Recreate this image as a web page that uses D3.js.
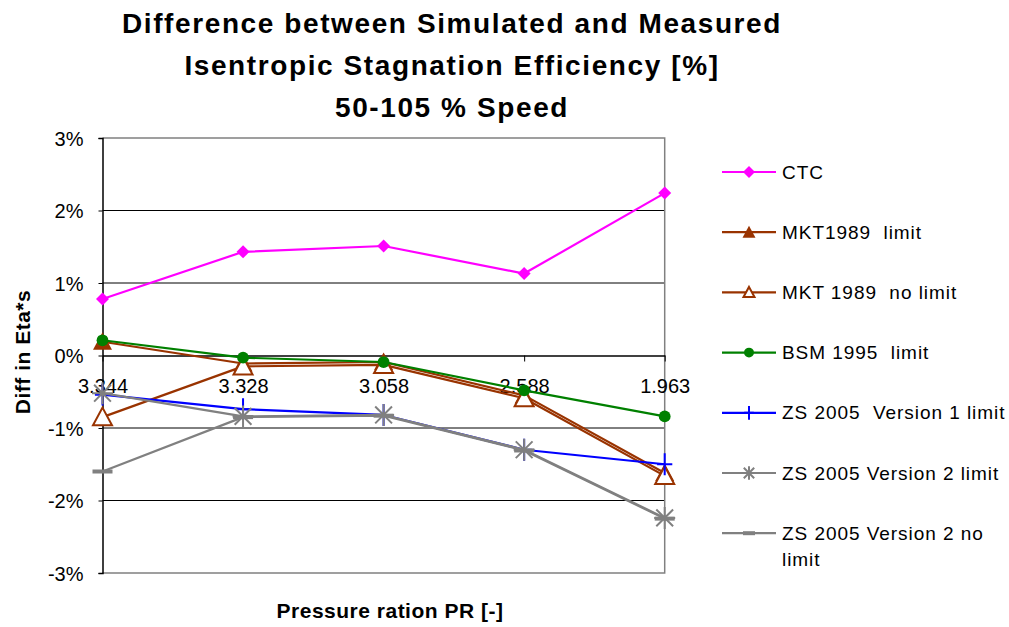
<!DOCTYPE html>
<html>
<head>
<meta charset="utf-8">
<script src="https://cdn.jsdelivr.net/npm/d3@7"></script>
<style>
  html, body { margin: 0; padding: 0; background: #fff; }
  svg { display: block; font-family: "Liberation Sans", Arial, sans-serif; }
  text { white-space: pre; }
</style>
</head>
<body>
<svg id="chart" width="1009" height="627"></svg>
<script>
// ---- data ----
const categories = ["3.344", "3.328", "3.058", "2.588", "1.963"];
const yTicks = [-3, -2, -1, 0, 1, 2, 3];
const titleLines = ["Difference between Simulated and Measured", "Isentropic Stagnation Efficiency [%]", "50-105 % Speed"];
const yTitle = "Diff in Eta*s";
const xTitle = "Pressure ration PR [-]";

const ctc            = [0.78, 1.43, 1.51, 1.13, 2.24];
const mkt1989Limit   = [0.19, -0.11, -0.09, -0.55, -1.62];
const mkt1989NoLimit = [-0.85, -0.15, -0.13, -0.59, -1.66];
const bsm1995Limit   = [0.21, -0.03, -0.09, -0.48, -0.84];
const zsV1Limit      = [-0.54, -0.74, -0.82, -1.30, -1.50];
const zsV2Limit      = [-0.52, -0.84, -0.82, -1.30, -2.24];
const zsV2NoLimit    = [-1.60, -0.85, -0.83, -1.31, -2.25];

const seriesNames = ["CTC", "MKT1989  limit", "MKT 1989  no limit", "BSM 1995  limit",
                     "ZS 2005  Version 1 limit", "ZS 2005 Version 2 limit", "ZS 2005 Version 2 no limit"];
const seriesValues = [ctc, mkt1989Limit, mkt1989NoLimit, bsm1995Limit, zsV1Limit, zsV2Limit, zsV2NoLimit];
const seriesColors = ["#FF00FF", "#993300", "#993300", "#008000", "#0000FF", "#808080", "#808080"];
const seriesMarkers = ["diamond", "triangleFilled", "triangleOpen", "circle", "plus", "asterisk", "dash"];

// ---- layout ----
const svg = d3.select("#chart");
const pLeft = 102.5, pRight = 664.7, pTop = 138, pBottom = 573;

const x = d3.scalePoint().domain(categories).range([pLeft, pRight]).padding(0);
const y = d3.scaleLinear().domain([-3, 3]).range([pBottom, pTop]);

// title
svg.append("g").selectAll("text").data(titleLines).join("text")
  .attr("x", 452).attr("y", (d, i) => 33 + i * 41.8)
  .attr("text-anchor", "middle")
  .style("font-size", "28px").style("font-weight", "bold").style("letter-spacing", "1.6px")
  .text(d => d);

// gridlines
svg.append("g").selectAll("line").data(yTicks.filter(t => t !== 0 && t !== 3 && t !== -3)).join("line")
  .attr("x1", pLeft).attr("x2", pRight)
  .attr("y1", d => y(d)).attr("y2", d => y(d))
  .attr("stroke", "#000").attr("stroke-width", 1);

// plot border (gray)
svg.append("path")
  .attr("d", `M${pLeft},${pTop}H${pRight}V${pBottom}H${pLeft}`)
  .attr("fill", "none").attr("stroke", "#808080").attr("stroke-width", 1.5);

// y axis
const yAxis = svg.append("g").attr("transform", `translate(${pLeft},0)`)
  .call(d3.axisLeft(y).tickValues(yTicks).tickSize(4).tickPadding(15).tickFormat(d => d + "%"));
yAxis.select(".domain").attr("stroke", "#000").attr("stroke-width", 1.5);
yAxis.selectAll("text").style("font-size", "20px").style("font-family", "Liberation Sans, Arial, sans-serif").attr("fill", "#000").attr("dy", "0.35em");

// x axis at zero
const xAxis = svg.append("g").attr("transform", `translate(0,${y(0)})`)
  .call(d3.axisBottom(x).tickSize(6).tickPadding(17).tickSizeOuter(0));
xAxis.select(".domain").attr("stroke", "#000").attr("stroke-width", 1.5);
xAxis.selectAll("text").style("font-size", "20px").style("font-family", "Liberation Sans, Arial, sans-serif").attr("fill", "#000");

// axis titles
svg.append("text")
  .attr("transform", `translate(30,352) rotate(-90)`)
  .attr("text-anchor", "middle")
  .style("font-size", "21px").style("font-weight", "bold").style("letter-spacing", "0.5px")
  .text(yTitle);
svg.append("text")
  .attr("x", 390).attr("y", 618)
  .attr("text-anchor", "middle")
  .style("font-size", "21px").style("font-weight", "bold").style("letter-spacing", "0.5px")
  .text(xTitle);

// marker drawing
function drawMarker(g, type, color, s) {
  if (type === "diamond") {
    g.append("path").attr("d", `M0,${-s}L${s},0L0,${s}L${-s},0Z`).attr("fill", color);
  } else if (type === "triangleFilled") {
    g.append("path").attr("d", `M0,${-s}L${s},${s * 0.85}L${-s},${s * 0.85}Z`).attr("fill", color);
  } else if (type === "triangleOpen") {
    const t = s - 1;
    g.append("path").attr("d", `M0,${-t}L${t},${t * 0.85}L${-t},${t * 0.85}Z`)
      .attr("fill", "#fff").attr("stroke", color).attr("stroke-width", 2);
  } else if (type === "circle") {
    g.append("circle").attr("r", s * 0.62).attr("fill", color);
  } else if (type === "plus") {
    g.append("path").attr("d", `M0,${-s * 1.15}V${s * 1.15}M${-s * 0.8},0H${s * 0.8}`)
      .attr("stroke", color).attr("stroke-width", 2);
  } else if (type === "asterisk") {
    const d = s * 0.8;
    g.append("path").attr("d", `M${-d},${-d}L${d},${d}M${-d},${d}L${d},${-d}M0,${-s * 1.05}V${s * 1.05}M${-s},0H${s}`)
      .attr("stroke", color).attr("stroke-width", 2);
  } else if (type === "dash") {
    g.append("rect").attr("x", -s).attr("y", -2).attr("width", 2 * s).attr("height", 4).attr("fill", color);
  }
}

const chartMarkerSize = { diamond: 6.5, triangleFilled: 9.5, triangleOpen: 10.5, circle: 9.5, plus: 9.5, asterisk: 10.5, dash: 10 };
const legendMarkerSize = { diamond: 6, triangleFilled: 6.5, triangleOpen: 6.5, circle: 8, plus: 6, asterisk: 6.5, dash: 6 };

const line = d3.line().x((d, i) => x(categories[i])).y(d => y(d));

seriesValues.forEach((vals, si) => {
  const g = svg.append("g");
  g.append("path").attr("d", line(vals))
    .attr("fill", "none").attr("stroke", seriesColors[si]).attr("stroke-width", 2.2)
    .attr("stroke-linejoin", "round");
  vals.forEach((v, i) => {
    const m = g.append("g").attr("transform", `translate(${x(categories[i])},${y(v)})`);
    drawMarker(m, seriesMarkers[si], seriesColors[si], chartMarkerSize[seriesMarkers[si]]);
  });
});

// legend
const legendY0 = 172, legendStep = 60.2;
seriesNames.forEach((name, si) => {
  const ly = legendY0 + si * legendStep;
  const g = svg.append("g");
  g.append("line").attr("x1", 722).attr("x2", 776).attr("y1", ly).attr("y2", ly)
    .attr("stroke", seriesColors[si]).attr("stroke-width", 2.2);
  const m = g.append("g").attr("transform", `translate(749,${ly})`);
  drawMarker(m, seriesMarkers[si], seriesColors[si], legendMarkerSize[seriesMarkers[si]]);
  const words = si === 6 ? ["ZS 2005 Version 2 no", "limit"] : [name];
  const t = g.append("text").attr("x", 782).attr("y", ly)
    .style("font-size", "19px").style("letter-spacing", "0.95px");
  words.forEach((w, wi) => {
    t.append("tspan").attr("x", 782).attr("dy", wi === 0 ? "0.35em" : "1.4em").text(w);
  });
});
</script>
</body>
</html>
